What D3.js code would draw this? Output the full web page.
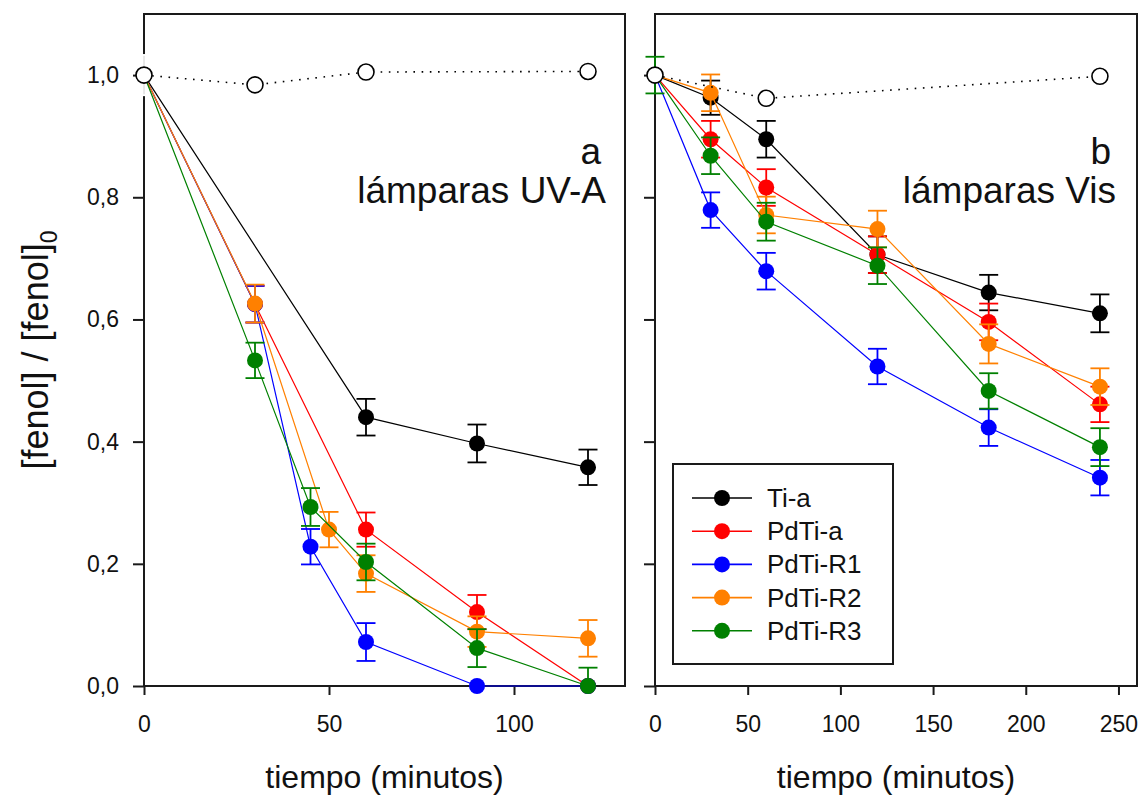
<!DOCTYPE html>
<html>
<head>
<meta charset="utf-8">
<script src="https://cdn.jsdelivr.net/npm/d3@7"></script>
<style>
  body { margin: 0; background: #fff; }
  svg { display: block; font-family: "Liberation Sans", Arial, sans-serif; }
</style>
</head>
<body>
<svg id="chart" width="1139" height="797"></svg>
<script>
// series names + colours (legend order)
const seriesNames = ["Ti-a", "PdTi-a", "PdTi-R1", "PdTi-R2", "PdTi-R3"];
const seriesColors = ["#000000", "#ff0000", "#0000ff", "#ff8000", "#008000"];

// panel a : lamparas UV-A
const tiA_t = [0, 60, 90, 120];
const tiA_v = [1, 0.44, 0.397, 0.358];
const tiA_e = [0, 0.03, 0.031, 0.029];
const pdTiA_t = [0, 30, 60, 90, 120];
const pdTiA_v = [1, 0.625, 0.256, 0.121, 0];
const pdTiA_e = [0, 0.03, 0.028, 0.028, 0];
const r1A_t = [0, 30, 45, 60, 90, 120];
const r1A_v = [1, 0.625, 0.228, 0.072, 0, 0];
const r1A_e = [0, 0.03, 0.029, 0.031, 0, 0];
const r2A_t = [0, 30, 50, 60, 90, 120];
const r2A_v = [1, 0.626, 0.256, 0.184, 0.089, 0.078];
const r2A_e = [0, 0.031, 0.029, 0.03, 0.025, 0.03];
const r3A_t = [0, 30, 45, 60, 90, 120];
const r3A_v = [1, 0.533, 0.293, 0.203, 0.062, 0];
const r3A_e = [0, 0.029, 0.031, 0.03, 0.031, 0.03];
const ctrlA_t = [0, 30, 60, 120];
const ctrlA_v = [1, 0.984, 1.005, 1.006];
const ctrlA_e = [0.033, 0, 0, 0];

// panel b : lamparas Vis
const timeB = [0, 30, 60, 120, 180, 240];
const tiB_v = [1, 0.963, 0.895, 0.706, 0.644, 0.61];
const tiB_e = [0, 0.028, 0.03, 0.03, 0.029, 0.031];
const pdTiB_v = [1, 0.895, 0.816, 0.706, 0.596, 0.461];
const pdTiB_e = [0, 0.03, 0.03, 0.03, 0.03, 0.029];
const r1B_v = [1, 0.779, 0.679, 0.523, 0.423, 0.341];
const r1B_e = [0, 0.029, 0.03, 0.029, 0.03, 0.029];
const r2B_v = [1, 0.971, 0.771, 0.748, 0.56, 0.49];
const r2B_e = [0, 0.03, 0.03, 0.03, 0.032, 0.03];
const r3B_v = [1, 0.868, 0.76, 0.688, 0.483, 0.391];
const r3B_e = [0.03, 0.03, 0.031, 0.03, 0.029, 0.031];
const ctrlB_t = [0, 60, 240];
const ctrlB_v = [1, 0.962, 0.998];

const yTicks = [0, 0.2, 0.4, 0.6, 0.8, 1.0];
const xTicksA = [0, 50, 100];
const xTicksB = [0, 50, 100, 150, 200, 250];

const svg = d3.select("#chart");
const plotTop = 14, plotBottom = 686;
const y = d3.scaleLinear().domain([0, 1.1]).range([plotBottom, plotTop]);

function zip(t, v, e) {
  return t.map((d, i) => ({t: d, v: v[i], e: e ? e[i] : 0}));
}

// error bars are cut at the x axis (y = 0)
function drawErr(g, x, s, c, clip) {
  const eb = g.append("g").attr("stroke", c).attr("stroke-width", 1.8)
    .attr("clip-path", `url(#${clip})`)
    .selectAll("g").data(s.filter(d => d.e > 0)).join("g");
  eb.append("line")
    .attr("x1", d => x(d.t)).attr("x2", d => x(d.t))
    .attr("y1", d => y(d.v - d.e)).attr("y2", d => y(d.v + d.e));
  [-1, 1].forEach(k => eb.append("line")
    .attr("x1", d => x(d.t) - 9.5).attr("x2", d => x(d.t) + 9.5)
    .attr("y1", d => y(d.v + k * d.e)).attr("y2", d => y(d.v + k * d.e)));
}

function drawPanel(p) {
  const x = d3.scaleLinear().domain(p.xDomain).range(p.xRange);
  const g = svg.append("g");

  g.append("clipPath").attr("id", p.clip).append("rect")
    .attr("x", p.xRange[0] - 20).attr("y", 0)
    .attr("width", p.xRange[1] - p.xRange[0] + 40).attr("height", plotBottom);

  // frame
  g.append("rect")
    .attr("x", p.xRange[0]).attr("y", plotTop)
    .attr("width", p.xRange[1] - p.xRange[0]).attr("height", plotBottom - plotTop)
    .attr("fill", "none").attr("stroke", "#1a1a1a").attr("stroke-width", 2);

  const yAxis = g.append("g")
    .attr("transform", `translate(${p.xRange[0]},0)`)
    .call(d3.axisLeft(y).tickValues(yTicks).tickSize(11).tickPadding(14)
      .tickFormat(p.yLabels ? (d => d3.format(".1f")(d).replace(".", ",")) : ""));
  const xAxis = g.append("g")
    .attr("transform", `translate(0,${plotBottom})`)
    .call(d3.axisBottom(x).tickValues(p.xTicks).tickSize(9).tickPadding(21));
  [yAxis, xAxis].forEach(a => {
    a.select(".domain").remove();
    a.selectAll("line").attr("stroke", "#1a1a1a").attr("stroke-width", 2);
    a.selectAll("text").attr("fill", "#111").style("font-size", "23px")
      .style("font-family", "'Liberation Sans', Arial, sans-serif");
  });

  const line = d3.line().x(d => x(d.t)).y(d => y(d.v));

  // white bars of the blank series sit on the axis
  if (p.ctrlErr) {
    drawErr(g, x, p.ctrl.map((d, i) => ({...d, e: p.ctrlErr[i]})), "#fff", p.clip);
  }

  p.series.forEach((s, i) => {
    const c = seriesColors[i];
    g.append("path").datum(s).attr("d", line)
      .attr("fill", "none").attr("stroke", c).attr("stroke-width", 1.2);
    drawErr(g, x, s, c, p.clip);
    g.append("g").selectAll("circle").data(s).join("circle")
      .attr("cx", d => x(d.t)).attr("cy", d => y(d.v)).attr("r", 8)
      .attr("fill", c);
  });

  // blank (no catalyst)
  g.append("path").datum(p.ctrl).attr("d", line)
    .attr("fill", "none").attr("stroke", "#000").attr("stroke-width", 1.6)
    .attr("stroke-dasharray", "1.6 6.6");
  g.append("g").selectAll("circle").data(p.ctrl).join("circle")
    .attr("cx", d => x(d.t)).attr("cy", d => y(d.v)).attr("r", 8)
    .attr("fill", "#fff").attr("stroke", "#000").attr("stroke-width", 1.6);

  const lab = g.append("g").attr("text-anchor", "end").attr("fill", "#111")
    .style("font-size", "37px");
  lab.append("text").attr("x", p.labelX - 5).attr("y", 164).text(p.letter);
  lab.append("text").attr("x", p.labelX).attr("y", 203).text(p.lamp);

  g.append("text")
    .attr("x", (p.xRange[0] + p.xRange[1]) / 2).attr("y", 788)
    .attr("text-anchor", "middle").attr("fill", "#111")
    .style("font-size", "32px").text("tiempo (minutos)");
  return g;
}

drawPanel({
  xDomain: [0, 130], xRange: [144, 625], xTicks: xTicksA, yLabels: true, clip: "clipA",
  series: [zip(tiA_t, tiA_v, tiA_e), zip(pdTiA_t, pdTiA_v, pdTiA_e),
           zip(r1A_t, r1A_v, r1A_e), zip(r2A_t, r2A_v, r2A_e), zip(r3A_t, r3A_v, r3A_e)],
  ctrl: zip(ctrlA_t, ctrlA_v), ctrlErr: ctrlA_e,
  letter: "a", lamp: "lámparas UV-A", labelX: 606
});

const panelB = drawPanel({
  xDomain: [0, 260], xRange: [655, 1137], xTicks: xTicksB, yLabels: false, clip: "clipB",
  series: [zip(timeB, tiB_v, tiB_e), zip(timeB, pdTiB_v, pdTiB_e),
           zip(timeB, r1B_v, r1B_e), zip(timeB, r2B_v, r2B_e), zip(timeB, r3B_v, r3B_e)],
  ctrl: zip(ctrlB_t, ctrlB_v),
  letter: "b", lamp: "lámparas Vis", labelX: 1116
});

// y title
const yt = svg.append("text")
  .attr("transform", `translate(48,350) rotate(-90)`)
  .attr("text-anchor", "middle").attr("fill", "#111").style("font-size", "36px");
yt.append("tspan").text("[fenol] / [fenol]");
yt.append("tspan").attr("dy", 9).style("font-size", "23px").text("0");

// legend
const leg = panelB.append("g");
leg.append("rect").attr("x", 673).attr("y", 464).attr("width", 220).attr("height", 200)
  .attr("fill", "#fff").attr("stroke", "#1a1a1a").attr("stroke-width", 2);
const row = leg.selectAll("g.row").data(seriesNames).join("g").attr("class", "row")
  .attr("transform", (d, i) => `translate(0,${498 + i * 33.2})`);
row.append("line").attr("x1", 692).attr("x2", 752)
  .attr("stroke", (d, i) => seriesColors[i]).attr("stroke-width", 1.6);
row.append("circle").attr("cx", 722).attr("r", 8).attr("fill", (d, i) => seriesColors[i]);
row.append("text").attr("x", 767).attr("y", 9).attr("fill", "#111")
  .style("font-size", "26px").text(d => d);
</script>
</body>
</html>
